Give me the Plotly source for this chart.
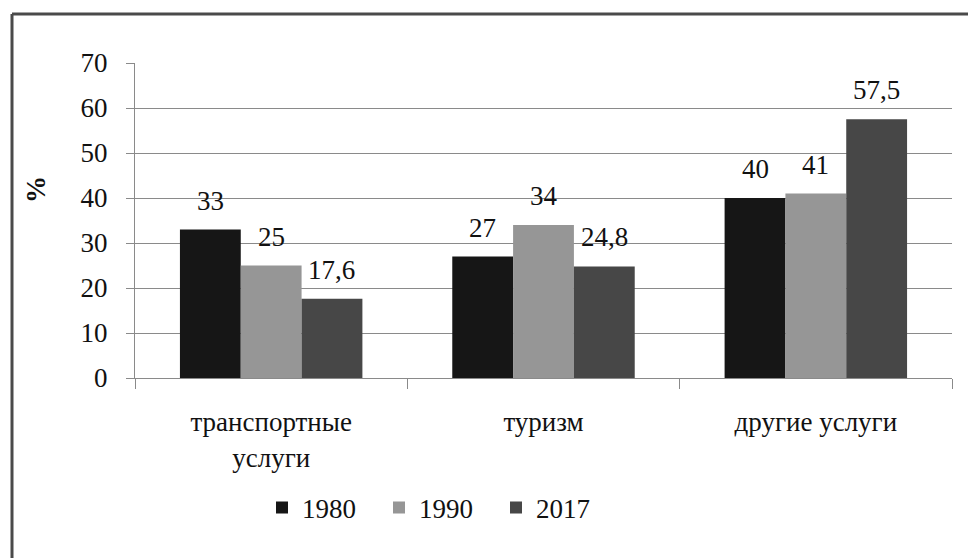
import plotly.graph_objects as go

categories = ["транспортные<br>услуги", "туризм", "другие услуги"]
years = ["1980", "1990", "2017"]
values_1980 = [33, 27, 40]
values_1990 = [25, 34, 41]
values_2017 = [17.6, 24.8, 57.5]
labels_1980 = ["33", "27", "40"]
labels_1990 = ["25", "34", "41"]
labels_2017 = ["17,6", "24,8", "57,5"]
y_ticks = [0, 10, 20, 30, 40, 50, 60, 70]

series = [values_1980, values_1990, values_2017]
series_labels = [labels_1980, labels_1990, labels_2017]
colors = ["#161616", "#969696", "#474747"]

W, H = 968, 558
L, R, T, B = 135, 16, 63, 180
plot_w = W - L - R
plot_h = H - T - B
bargap = 0.33
FONT = "Liberation Serif"
FS = 27

fig = go.Figure()
for name, vals, col in zip(years, series, colors):
    fig.add_trace(go.Bar(
        name=name, x=categories, y=vals,
        marker=dict(color=col, line=dict(width=0)),
    ))

# data labels above bars
cat_w = plot_w / len(categories)
bar_w = cat_w * (1 - bargap) / len(series)
annotations = []
for i, (vals, labs) in enumerate(zip(series, series_labels)):
    for c, v, t in zip(categories, vals, labs):
        annotations.append(dict(
            x=c, y=v, xref="x", yref="y", text=t, showarrow=False,
            xshift=(i - 1) * bar_w, yshift=29, yanchor="middle",
            font=dict(family=FONT, size=FS, color="#111111"),
        ))

# y axis title "%"
annotations.append(dict(
    x=(36 - L) / plot_w, y=(H - B - 190) / plot_h, xref="paper", yref="paper",
    text="<b>%</b>", textangle=-90, showarrow=False,
    xanchor="center", yanchor="middle",
    font=dict(family=FONT, size=FS, color="#111111"),
))

fig.update_layout(
    width=W, height=H,
    margin=dict(l=L, r=R, t=T, b=B, pad=0),
    paper_bgcolor="white", plot_bgcolor="white",
    barmode="group", bargap=bargap, bargroupgap=0,
    font=dict(family=FONT, size=FS, color="#111111"),
    showlegend=True,
    legend=dict(
        orientation="h", x=(262 - L) / plot_w, y=(H - B - 508) / plot_h,
        xanchor="left", yanchor="middle",
        font=dict(family=FONT, size=FS, color="#111111"),
        itemwidth=30, entrywidth=72, entrywidthmode="pixels",
        bgcolor="rgba(0,0,0,0)",
    ),
    annotations=annotations,
    shapes=[
        dict(type="line", xref="paper", yref="paper",
             x0=(12 - L) / plot_w, x1=(975 - L) / plot_w,
             y0=(H - B - 14) / plot_h, y1=(H - B - 14) / plot_h,
             line=dict(color="#4a4a4a", width=3)),
        dict(type="line", xref="paper", yref="paper",
             x0=(12 - L) / plot_w, x1=(12 - L) / plot_w,
             y0=(H - B - 14) / plot_h, y1=(H - B - 570) / plot_h,
             line=dict(color="#4a4a4a", width=3)),
    ],
)

fig.update_yaxes(
    range=[0, 70], tickvals=y_ticks, ticktext=[str(v) for v in y_ticks],
    showgrid=True, gridcolor="#8a8a8a", gridwidth=1,
    showline=True, linecolor="#8a8a8a", linewidth=1,
    ticks="outside", ticklen=8, tickcolor="#8a8a8a",
    ticklabelstandoff=13, zeroline=False,
    tickfont=dict(family=FONT, size=FS, color="#111111"),
)
fig.update_xaxes(
    showline=True, linecolor="#8a8a8a", linewidth=1,
    ticks="outside", ticklen=10, tickcolor="#8a8a8a", tickson="boundaries",
    ticklabelstandoff=20,
    tickfont=dict(family=FONT, size=FS, color="#111111"),
)

fig.write_html(
    "out.html",
    config={"displayModeBar": False},
    post_script="document.body.style.margin='0';document.body.style.overflow='hidden';",
)
